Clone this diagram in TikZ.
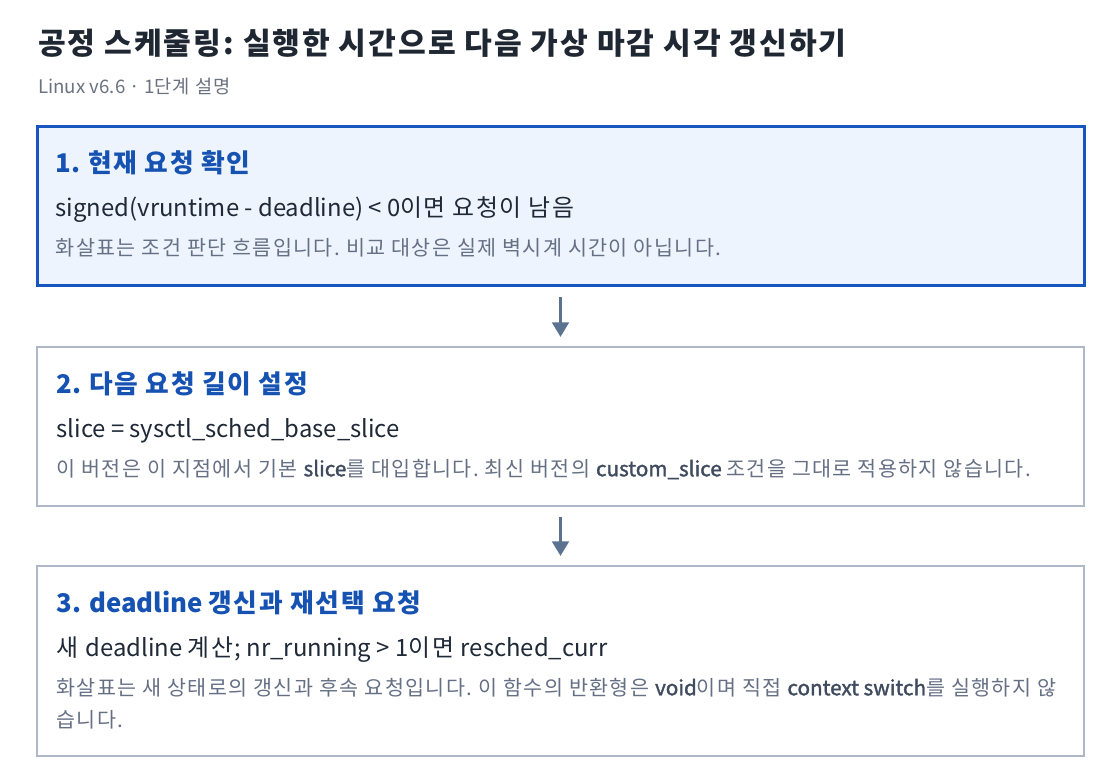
\documentclass[tikz,border=0pt]{standalone}
\usepackage{fontspec}
\setmainfont{Noto Sans CJK KR}
\newfontfamily\codefont{Noto Sans CJK KR}[FakeBold=1.6]
\usepackage{xcolor}
\usetikzlibrary{arrows.meta, positioning, calc}
% a little more room after each Hangul syllable
\XeTeXinterchartokenstate=1
\newXeTeXintercharclass\hangulclass
\count255="AC00
\loop\XeTeXcharclass\count255=\hangulclass\ifnum\count255<"D7A3 \advance\count255 by 1 \repeat
\XeTeXinterchartoks\hangulclass\hangulclass{\kern0.065em\relax}
\XeTeXinterchartoks\hangulclass 0 {\kern0.065em\relax}
\XeTeXinterchartoks\hangulclass 4095 {\kern0.065em\relax}
\definecolor{titlecol}{HTML}{1F2733}
\definecolor{subcol}{HTML}{6B7280}
\definecolor{headblue}{HTML}{1652B2}
\definecolor{currline}{HTML}{1756BE}
\definecolor{currfill}{HTML}{EDF4FD}
\definecolor{textdark}{HTML}{1F2937}
\definecolor{notegray}{HTML}{667085}
\definecolor{codegray}{HTML}{3F4B5E}
\definecolor{boxline}{HTML}{AEB8C6}
\definecolor{arrowcol}{HTML}{5B7390}
\newcommand{\codeword}[1]{{\codefont\color{codegray}#1}}

\begin{document}
\begin{tikzpicture}[
    x=0.75pt, y=-0.75pt,
    stepbox/.style={draw=boxline, line width=1.1pt, fill=white, minimum width=785.25pt, inner sep=0pt},
    current/.style={draw=currline, line width=2.25pt, fill=currfill},
    heading/.style={anchor=base west, inner sep=0pt, font=\fontsize{19.3}{24}\selectfont\bfseries, text=headblue},
    detail/.style={anchor=base west, inner sep=0pt, font=\fontsize{17.9}{21}\selectfont, text=textdark},
    note/.style={anchor=base west, inner sep=0pt, align=left, font=\fontsize{15.5}{24}\selectfont, text=notegray},
    flow/.style={-{Triangle[width=12.5pt, length=11pt]}, line width=2.4pt, draw=arrowcol, shorten <=7.5pt, shorten >=7pt}
]
    \fill[white] (0,0) rectangle (1120,784);
    \useasboundingbox (0,0) rectangle (1120,784);

    \node[anchor=base west, inner sep=0pt, font=\fontsize{22.6}{26}\selectfont\bfseries, text=titlecol] (title) at (38,55) {공정 스케줄링: 실행한 시간으로 다음 가상 마감 시각 갱신하기};
    \node[anchor=base west, inner sep=0pt, font=\fontsize{14}{16}\selectfont, text=subcol] (subtitle) at (38,94) {Linux v6.6 · 1단계 설명};

    \node[stepbox, current, minimum height=118.5pt] (step1) at (560.5,206) {};
    \node[stepbox, minimum height=119.25pt] (step2) at (560.5,426.5) {};
    \node[stepbox, minimum height=142.5pt] (step3) at (560.5,661) {};

    % step 1
    \node[heading] (head1) at ($(step1.north west)+(20,47)$) {1. 현재 요청 확인};
    \node[detail] (detail1) at ($(step1.north west)+(20,91)$) {signed(vruntime - deadline) < 0이면 요청이 남음};
    \node[note] (note1) at ($(step1.north west)+(20,130)$) {화살표는 조건 판단 흐름입니다. 비교 대상은 실제 벽시계 시간이 아닙니다.};

    % step 2
    \node[heading] (head2) at ($(step2.north west)+(20,47)$) {2. 다음 요청 길이 설정};
    \node[detail] (detail2) at ($(step2.north west)+(20,91)$) {slice = sysctl\_sched\_base\_slice};
    \node[note] (note2) at ($(step2.north west)+(20,130)$) {이 버전은 이 지점에서 기본 \codeword{slice}를 대입합니다. 최신 버전의 \codeword{custom\_slice} 조건을 그대로 적용하지 않습니다.};

    % step 3 (two-line note: base is its last line)
    \node[heading] (head3) at ($(step3.north west)+(20,47)$) {3. deadline 갱신과 재선택 요청};
    \node[detail] (detail3) at ($(step3.north west)+(20,91)$) {새 deadline 계산; nr\_running > 1이면 resched\_curr};
    \node[note] (note3) at ($(step3.north west)+(20,162)$) {화살표는 새 상태로의 갱신과 후속 요청입니다. 이 함수의 반환형은 \codeword{void}이며 직접 \codeword{context switch}를 실행하지 않\\습니다.};

    \draw[flow] (step1) -- (step2);
    \draw[flow] (step2) -- (step3);
\end{tikzpicture}
\end{document}
